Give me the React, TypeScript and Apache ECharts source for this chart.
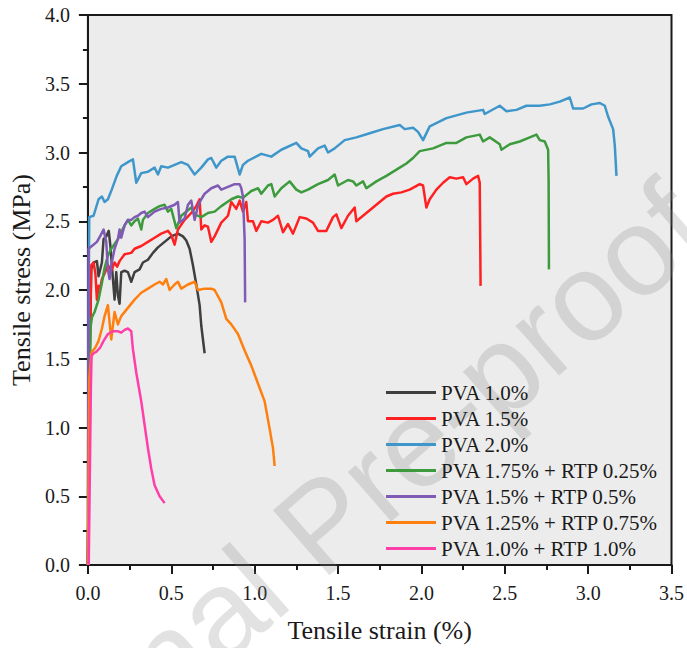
import React, { useEffect, useRef } from "react";
import * as echarts from "echarts";

const seriesNames = [
  "PVA 1.0%",
  "PVA 1.5%",
  "PVA 2.0%",
  "PVA 1.75% + RTP 0.25%",
  "PVA 1.5% + RTP 0.5%",
  "PVA 1.25% + RTP 0.75%",
  "PVA 1.0% + RTP 1.0%",
];

const seriesColors = ["#3f3f3f", "#ff2121", "#3e96cb", "#3d9a3d", "#7f5bb5", "#ff7f0e", "#ff3fa8"];

const xTicks = [0, 0.5, 1.0, 1.5, 2.0, 2.5, 3.0, 3.5];
const yTicks = [0, 0.5, 1.0, 1.5, 2.0, 2.5, 3.0, 3.5, 4.0];

const pva10 = [
  [0, 0], [0.01, 1.4], [0.02, 2.15], [0.035, 2.2], [0.054, 2.21], [0.064, 2.1], [0.084, 2.2], [0.094, 2.37],
  [0.11, 2.39], [0.125, 2.43], [0.135, 2.32], [0.15, 2.08], [0.16, 1.93], [0.17, 2.13], [0.18, 1.96], [0.19, 1.9],
  [0.2, 2.13], [0.22, 2.14], [0.24, 2.13], [0.26, 2.06], [0.28, 2.13], [0.31, 2.15], [0.33, 2.2], [0.36, 2.22],
  [0.39, 2.27], [0.42, 2.31], [0.46, 2.35], [0.5, 2.39], [0.54, 2.41], [0.57, 2.39], [0.59, 2.36], [0.61, 2.3],
  [0.63, 2.18], [0.65, 2.04], [0.67, 1.89], [0.68, 1.74], [0.7, 1.54],
];

const pva15 = [
  [0, 0], [0.01, 1.5], [0.02, 2.18], [0.034, 2.2], [0.045, 2.12], [0.054, 1.93], [0.064, 2.03], [0.073, 2.01],
  [0.084, 2.08], [0.1, 2.12], [0.12, 2.18], [0.14, 2.14], [0.16, 2.2], [0.175, 2.17], [0.19, 2.21], [0.22, 2.26],
  [0.26, 2.27], [0.28, 2.3], [0.32, 2.32], [0.36, 2.35], [0.4, 2.38], [0.44, 2.41], [0.48, 2.43], [0.5, 2.4],
  [0.52, 2.33], [0.54, 2.44], [0.58, 2.51], [0.62, 2.56], [0.65, 2.61], [0.67, 2.66], [0.68, 2.44], [0.7, 2.47],
  [0.72, 2.46], [0.74, 2.35], [0.76, 2.39], [0.8, 2.49], [0.84, 2.54], [0.86, 2.64], [0.89, 2.59], [0.91, 2.65],
  [0.93, 2.57], [0.95, 2.64], [0.96, 2.5], [0.99, 2.5], [1.01, 2.43], [1.04, 2.5], [1.08, 2.49], [1.11, 2.51],
  [1.14, 2.54], [1.17, 2.42], [1.2, 2.48], [1.23, 2.41], [1.27, 2.53], [1.31, 2.52], [1.35, 2.49], [1.38, 2.43],
  [1.43, 2.43], [1.47, 2.53], [1.49, 2.55], [1.52, 2.45], [1.56, 2.54], [1.6, 2.6], [1.61, 2.5], [1.67, 2.56],
  [1.73, 2.62], [1.79, 2.68], [1.83, 2.7], [1.88, 2.71], [1.93, 2.73], [1.99, 2.77], [2.01, 2.76], [2.03, 2.6],
  [2.05, 2.66], [2.09, 2.73], [2.13, 2.78], [2.17, 2.82], [2.21, 2.81], [2.25, 2.82], [2.27, 2.77], [2.31, 2.81],
  [2.34, 2.83], [2.35, 2.78], [2.355, 2.03],
];

const pva20 = [
  [0, 0], [0.005, 2.0], [0.008, 2.53], [0.034, 2.54], [0.064, 2.66], [0.084, 2.68], [0.1, 2.64], [0.12, 2.66],
  [0.143, 2.73], [0.173, 2.83], [0.2, 2.9], [0.24, 2.93], [0.27, 2.95], [0.29, 2.78], [0.32, 2.85], [0.36, 2.86],
  [0.4, 2.89], [0.42, 2.84], [0.44, 2.9], [0.48, 2.89], [0.52, 2.91], [0.56, 2.93], [0.6, 2.91], [0.64, 2.84],
  [0.68, 2.89], [0.72, 2.95], [0.74, 2.96], [0.77, 2.89], [0.8, 2.94], [0.84, 2.97], [0.88, 2.97], [0.91, 2.84],
  [0.93, 2.91], [0.96, 2.94], [1.04, 2.99], [1.1, 2.97], [1.16, 3.02], [1.25, 3.07], [1.28, 3.03], [1.32, 3.01],
  [1.33, 2.97], [1.38, 3.03], [1.42, 3.05], [1.44, 3.0], [1.48, 3.03], [1.54, 3.09], [1.61, 3.11], [1.69, 3.14],
  [1.77, 3.17], [1.87, 3.2], [1.9, 3.17], [1.95, 3.18], [1.98, 3.15], [2.01, 3.09], [2.05, 3.19], [2.15, 3.25],
  [2.27, 3.29], [2.37, 3.31], [2.38, 3.28], [2.47, 3.34], [2.51, 3.3], [2.57, 3.31], [2.63, 3.34], [2.71, 3.34],
  [2.77, 3.35], [2.83, 3.37], [2.89, 3.4], [2.91, 3.32], [2.97, 3.32], [3.02, 3.35], [3.07, 3.36], [3.1, 3.34],
  [3.12, 3.26], [3.15, 3.17], [3.16, 3.05], [3.17, 2.83],
];

const pva175rtp025 = [
  [0, 0], [0.01, 1.2], [0.015, 1.72], [0.024, 1.8], [0.04, 1.84], [0.064, 1.93], [0.084, 2.05], [0.1, 2.16],
  [0.12, 2.25], [0.14, 2.3], [0.18, 2.37], [0.22, 2.47], [0.24, 2.51], [0.26, 2.47], [0.28, 2.5], [0.3, 2.52],
  [0.32, 2.44], [0.33, 2.51], [0.36, 2.56], [0.4, 2.59], [0.43, 2.61], [0.46, 2.62], [0.48, 2.57], [0.5, 2.59],
  [0.53, 2.45], [0.56, 2.54], [0.62, 2.6], [0.64, 2.55], [0.68, 2.53], [0.72, 2.56], [0.76, 2.57], [0.8, 2.61],
  [0.86, 2.66], [0.9, 2.68], [0.93, 2.67], [0.98, 2.72], [1.02, 2.74], [1.04, 2.7], [1.08, 2.76], [1.1, 2.77],
  [1.12, 2.68], [1.16, 2.74], [1.21, 2.79], [1.25, 2.73], [1.28, 2.71], [1.32, 2.73], [1.38, 2.77], [1.44, 2.8],
  [1.48, 2.84], [1.5, 2.76], [1.56, 2.8], [1.59, 2.79], [1.61, 2.76], [1.65, 2.79], [1.67, 2.74], [1.73, 2.79],
  [1.79, 2.83], [1.87, 2.89], [1.91, 2.92], [1.95, 2.96], [1.99, 3.01], [2.07, 3.03], [2.15, 3.07], [2.21, 3.07],
  [2.27, 3.11], [2.35, 3.13], [2.37, 3.08], [2.41, 3.11], [2.47, 3.06], [2.48, 3.02], [2.53, 3.06], [2.59, 3.08],
  [2.65, 3.11], [2.69, 3.13], [2.71, 3.09], [2.74, 3.08], [2.76, 3.02], [2.763, 2.8], [2.765, 2.15],
];

const pva15rtp05 = [
  [0, 0], [0.003, 1.5], [0.004, 2.3], [0.024, 2.32], [0.054, 2.35], [0.073, 2.39], [0.094, 2.44], [0.11, 2.35],
  [0.12, 2.15], [0.13, 2.08], [0.14, 2.18], [0.16, 2.3], [0.18, 2.37], [0.19, 2.44], [0.2, 2.38], [0.22, 2.47],
  [0.24, 2.51], [0.26, 2.51], [0.28, 2.53], [0.3, 2.54], [0.32, 2.56], [0.34, 2.57], [0.36, 2.53], [0.38, 2.55],
  [0.4, 2.57], [0.44, 2.59], [0.48, 2.6], [0.52, 2.62], [0.54, 2.64], [0.55, 2.49], [0.58, 2.52], [0.6, 2.62],
  [0.62, 2.65], [0.64, 2.51], [0.66, 2.61], [0.68, 2.66], [0.7, 2.7], [0.74, 2.74], [0.78, 2.76], [0.8, 2.73],
  [0.84, 2.75], [0.88, 2.77], [0.91, 2.77], [0.92, 2.74], [0.93, 2.68], [0.94, 2.37], [0.943, 1.91],
];

const pva125rtp075 = [
  [0, 0], [0.008, 1.35], [0.02, 1.53], [0.024, 1.55], [0.044, 1.58], [0.064, 1.63], [0.084, 1.72], [0.1, 1.81],
  [0.12, 1.89], [0.14, 1.64], [0.16, 1.84], [0.18, 1.75], [0.2, 1.81], [0.24, 1.87], [0.28, 1.93], [0.32, 1.98],
  [0.36, 2.01], [0.4, 2.04], [0.43, 2.06], [0.45, 2.04], [0.47, 2.08], [0.49, 2.0], [0.52, 2.04], [0.54, 2.06],
  [0.56, 2.01], [0.6, 2.04], [0.64, 2.06], [0.66, 2.0], [0.7, 2.01], [0.74, 2.01], [0.76, 2.0], [0.8, 1.91],
  [0.83, 1.79], [0.86, 1.75], [0.9, 1.68], [0.94, 1.56], [0.98, 1.45], [1.02, 1.32], [1.06, 1.19], [1.09, 0.99],
  [1.11, 0.85], [1.12, 0.72],
];

const pva10rtp10 = [
  [0.005, 0], [0.012, 0.7], [0.018, 1.3], [0.022, 1.52], [0.034, 1.54], [0.05, 1.55], [0.073, 1.58], [0.094, 1.63],
  [0.12, 1.68], [0.15, 1.7], [0.18, 1.7], [0.2, 1.69], [0.22, 1.71], [0.24, 1.72], [0.26, 1.7], [0.27, 1.57],
  [0.29, 1.4], [0.31, 1.26], [0.32, 1.19], [0.34, 1.02], [0.36, 0.85], [0.38, 0.7], [0.4, 0.58], [0.43, 0.5],
  [0.46, 0.45],
];

const seriesData = [pva10, pva15, pva20, pva175rtp025, pva15rtp05, pva125rtp075, pva10rtp10];

const SERIF = "Liberation Serif, Times New Roman, serif";

export default function App() {
  const ref = useRef<HTMLDivElement>(null);

  useEffect(() => {
    if (!ref.current) return;
    const chart = echarts.init(ref.current, undefined, { renderer: "svg" });
    const fmt = (v: number) => v.toFixed(1);
    chart.setOption({
      animation: false,
      backgroundColor: "#ffffff",
      textStyle: { fontFamily: SERIF },
      grid: {
        left: 86,
        right: 14,
        top: 15,
        bottom: 81,
        show: true,
        backgroundColor: "#ececec",
        borderColor: "#1a1a1a",
        borderWidth: 2,
      },
      graphic: [
        {
          type: "text",
          x: 322,
          y: 524,
          rotation: (41 * Math.PI) / 180,
          z: 1,
          silent: true,
          style: {
            text: "Journal Pre-proof",
            fontSize: 125,
            fontFamily: "Liberation Sans, Arial, sans-serif",
            fill: "rgba(128,128,128,0.23)",
            textAlign: "center",
            textVerticalAlign: "middle",
            align: "center",
            verticalAlign: "middle",
          },
        },
      ],
      legend: {
        data: seriesNames,
        orient: "vertical",
        left: 386,
        top: 382,
        padding: 0,
        itemWidth: 50,
        itemHeight: 3,
        itemGap: 5,
        icon: "rect",
        textStyle: { fontFamily: SERIF, fontSize: 21, color: "#1a1a1a" },
      },
      xAxis: {
        type: "value",
        min: xTicks[0],
        max: xTicks[xTicks.length - 1],
        interval: 0.5,
        name: "Tensile strain (%)",
        nameLocation: "middle",
        nameGap: 52,
        nameTextStyle: { fontFamily: SERIF, fontSize: 26, color: "#1a1a1a" },
        axisLine: { show: true, lineStyle: { color: "#1a1a1a", width: 2 } },
        axisTick: { show: true, inside: false, length: 9, lineStyle: { color: "#1a1a1a", width: 2 } },
        minorTick: { show: true, splitNumber: 2, length: 5, lineStyle: { color: "#1a1a1a", width: 2 } },
        splitLine: { show: false },
        axisLabel: { formatter: fmt, fontFamily: SERIF, fontSize: 20, color: "#1a1a1a", margin: 18 },
      },
      yAxis: {
        type: "value",
        min: yTicks[0],
        max: yTicks[yTicks.length - 1],
        interval: 0.5,
        name: "Tensile stress (MPa)",
        nameLocation: "middle",
        nameGap: 48,
        nameTextStyle: { fontFamily: SERIF, fontSize: 26, color: "#1a1a1a", padding: [0, 0, 0, 20] },
        axisLine: { show: true, lineStyle: { color: "#1a1a1a", width: 2 } },
        axisTick: { show: true, inside: false, length: 9, lineStyle: { color: "#1a1a1a", width: 2 } },
        minorTick: { show: true, splitNumber: 2, length: 5, lineStyle: { color: "#1a1a1a", width: 2 } },
        splitLine: { show: false },
        axisLabel: { formatter: fmt, fontFamily: SERIF, fontSize: 20, color: "#1a1a1a", margin: 18 },
      },
      series: seriesNames.map((name, i) => ({
        name,
        type: "line",
        data: seriesData[i],
        showSymbol: false,
        symbol: "none",
        color: seriesColors[i],
        lineStyle: { color: seriesColors[i], width: 2.5, join: "round" },
        z: 3,
      })),
    });
    return () => chart.dispose();
  }, []);

  return (
    <div
      ref={ref}
      style={{ position: "fixed", left: 0, top: 0, width: 687, height: 648 }}
    />
  );
}
